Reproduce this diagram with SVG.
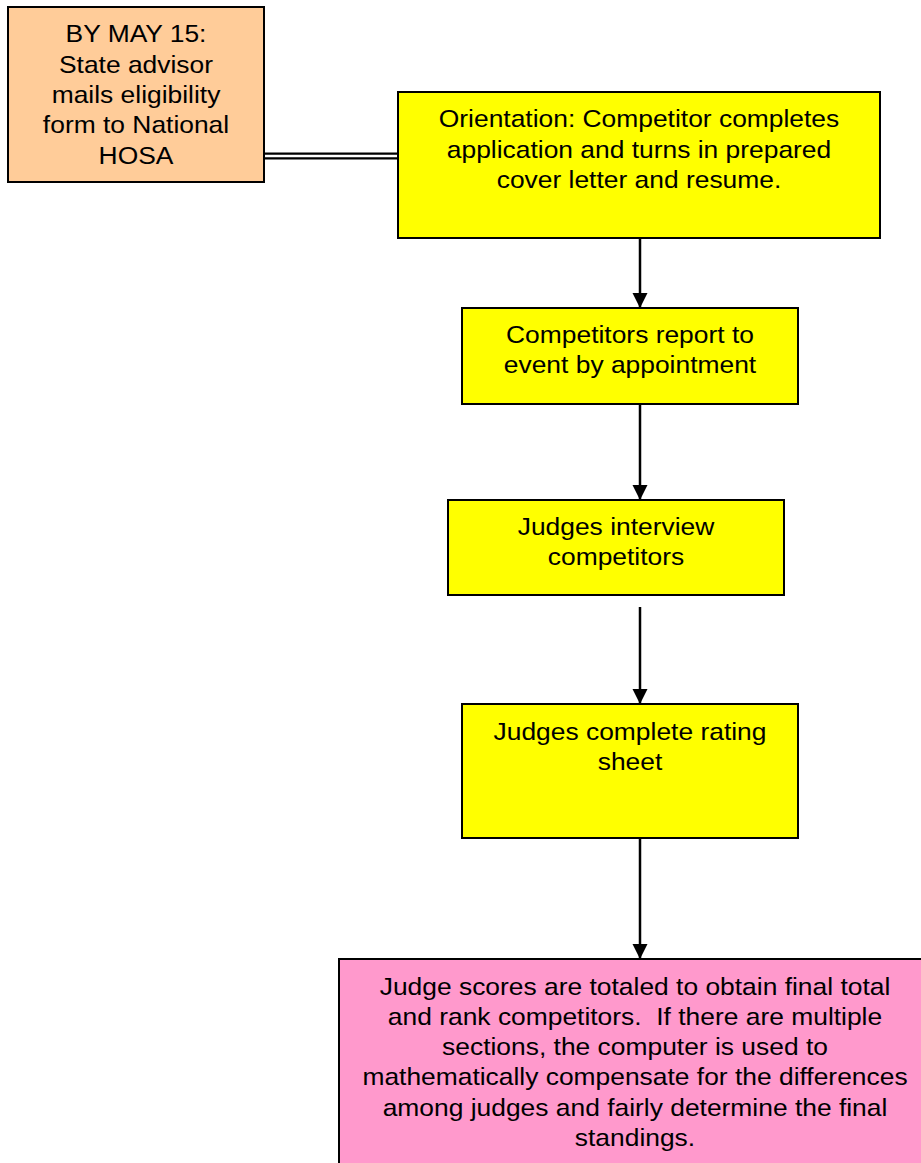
<svg xmlns="http://www.w3.org/2000/svg" width="921" height="1163" viewBox="0 0 921 1163">
<style>
.box{stroke:#000;stroke-width:2}
.t{font-family:"Liberation Sans",Arial,sans-serif;font-size:24px;fill:#000;text-anchor:middle;white-space:pre}
.conn{stroke:#000;stroke-width:2.5;fill:none}
</style>
<defs>
<marker id="ah" markerUnits="userSpaceOnUse" markerWidth="16" markerHeight="16" viewBox="0 0 16 16" refX="15" refY="8" orient="auto">
<path d="M0,0.5 L15,8 L0,15.5 Z" fill="#000"/>
</marker>
</defs>
<rect width="921" height="1163" fill="#fff"/>
<g id="connectors">
<line x1="264" y1="156" x2="398" y2="156" stroke="#000" stroke-width="7"/>
<line x1="265" y1="156" x2="397" y2="156" stroke="#fff" stroke-width="2.5"/>
<line class="conn" x1="640" y1="238" x2="640" y2="308" marker-end="url(#ah)"/>
<line class="conn" x1="640" y1="404" x2="640" y2="500" marker-end="url(#ah)"/>
<line class="conn" x1="640" y1="607" x2="640" y2="704" marker-end="url(#ah)"/>
<line class="conn" x1="640" y1="838" x2="640" y2="959" marker-end="url(#ah)"/>
</g>
<g id="n-deadline">
<rect class="box" x="8" y="7" width="256" height="175" fill="#FFCC99"/>
<g transform="translate(136,0) scale(1.1,1)">
<text class="t" x="0" y="42.5">BY MAY 15:</text>
<text class="t" x="0" y="73">State advisor</text>
<text class="t" x="0" y="103">mails eligibility</text>
<text class="t" x="0" y="133.5">form to National</text>
<text class="t" x="0" y="164">HOSA</text>
</g>
</g>
<g id="n-orientation">
<rect class="box" x="398" y="92" width="482" height="146" fill="#FFFF00"/>
<g transform="translate(639,0) scale(1.1,1)">
<text class="t" x="0" y="127.5">Orientation: Competitor completes</text>
<text class="t" x="0" y="158">application and turns in prepared</text>
<text class="t" x="0" y="188">cover letter and resume.</text>
</g>
</g>
<g id="n-report">
<rect class="box" x="462" y="308" width="336" height="96" fill="#FFFF00"/>
<g transform="translate(630,0) scale(1.1,1)">
<text class="t" x="0" y="343.5">Competitors report to</text>
<text class="t" x="0" y="373.5">event by appointment</text>
</g>
</g>
<g id="n-interview">
<rect class="box" x="448" y="500" width="336" height="95" fill="#FFFF00"/>
<g transform="translate(616,0) scale(1.1,1)">
<text class="t" x="0" y="535">Judges interview</text>
<text class="t" x="0" y="565">competitors</text>
</g>
</g>
<g id="n-rating">
<rect class="box" x="462" y="704" width="336" height="134" fill="#FFFF00"/>
<g transform="translate(630,0) scale(1.1,1)">
<text class="t" x="0" y="740">Judges complete rating</text>
<text class="t" x="0" y="770">sheet</text>
</g>
</g>
<g id="n-scores">
<rect class="box" x="339" y="959" width="600" height="220" fill="#FF99CC"/>
<g transform="translate(635,0) scale(1.1,1)">
<text class="t" x="0" y="995">Judge scores are totaled to obtain final total</text>
<text class="t" x="0" y="1025" xml:space="preserve">and rank competitors.  If there are multiple</text>
<text class="t" x="0" y="1055.5">sections, the computer is used to</text>
<text class="t" x="0" y="1085.5">mathematically compensate for the differences</text>
<text class="t" x="0" y="1116">among judges and fairly determine the final</text>
<text class="t" x="0" y="1146">standings.</text>
</g>
</g>
</svg>
